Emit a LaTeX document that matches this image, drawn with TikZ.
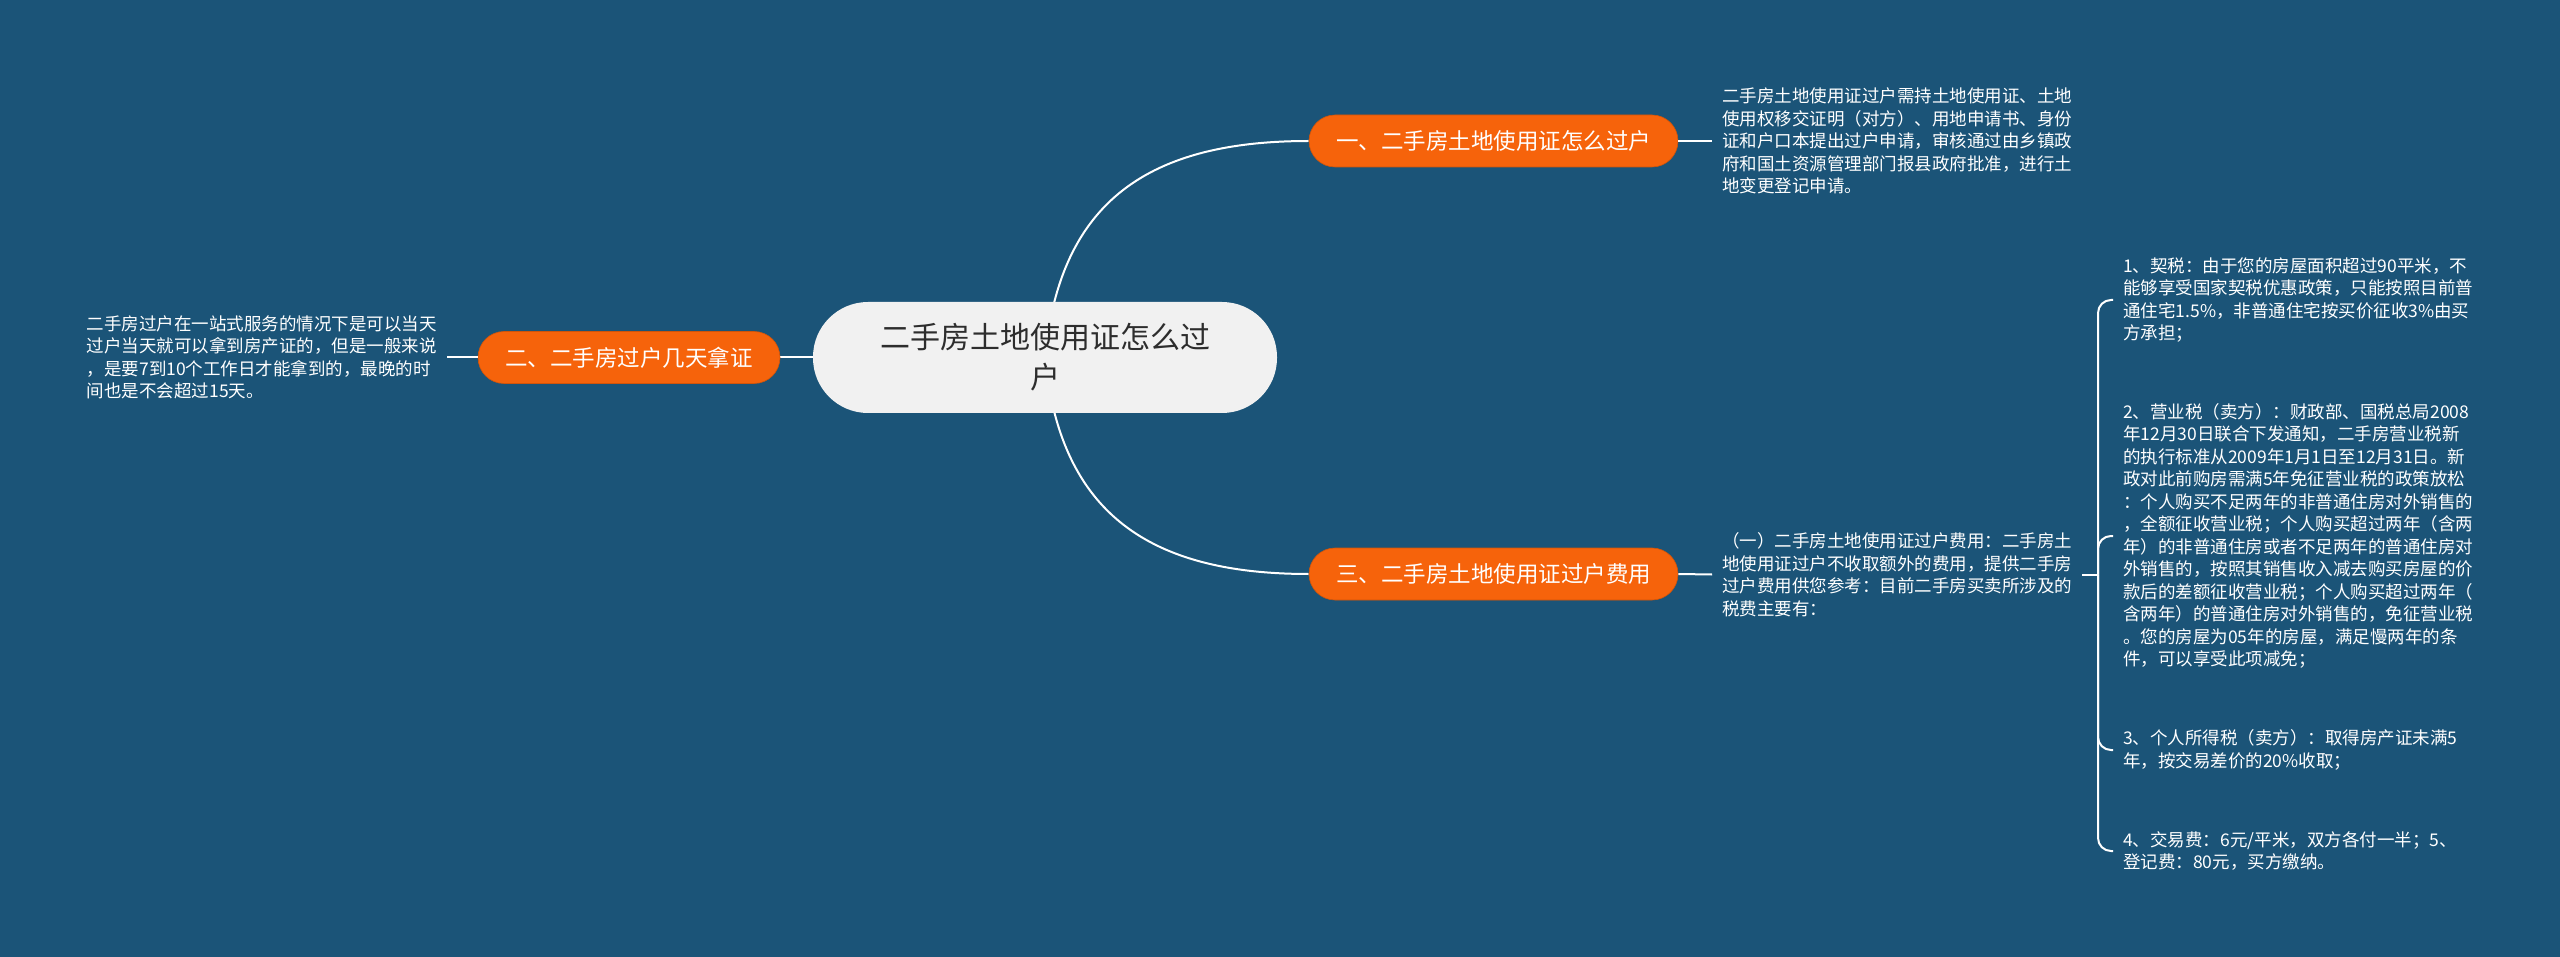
\documentclass[tikz,border=0pt]{standalone}
\usepackage{fontspec}
\setmainfont{Noto Sans CJK SC}
\definecolor{bgblue}{RGB}{27,84,120}
\definecolor{orangeb}{RGB}{246,99,11}
\definecolor{centerfill}{RGB}{241,241,241}
\definecolor{centertext}{RGB}{45,45,45}
\pgfdeclarelayer{bglayer}
\pgfdeclarelayer{edgelayer}
\pgfsetlayers{bglayer,edgelayer,main}
\tikzset{
  centernode/.style={draw=none, fill=centerfill, rounded corners=55pt, minimum width=464pt, minimum height=111pt, align=center, text=centertext, font=\fontsize{30pt}{40pt}\selectfont, inner sep=0pt},
  branchnode/.style={draw=orangeb!85!black, line width=0.6pt, fill=orangeb, rounded corners=26pt, minimum width=369pt, minimum height=52pt, text=white, font=\fontsize{22.5pt}{27pt}\selectfont, inner sep=0pt},
  leaftext/.style={align=left, text=white, font=\fontsize{17.5pt}{22.5pt}\selectfont, inner xsep=10pt, inner ysep=4pt},
  link/.style={draw=white, line width=2pt},
}
\begin{document}
\begin{tikzpicture}[x=1pt, y=-1pt]
\begin{pgfonlayer}{bglayer}
\fill[bgblue] (0,0) rectangle (2560,957);
\end{pgfonlayer}
\useasboundingbox (0,0) rectangle (2560,957);

\coordinate (c0) at (1045,357);
\node[centernode] (c) at (1045,357.5) {二手房土地使用证怎么过\\户};
\node[branchnode] (b1) at (1493.5,141) {一、二手房土地使用证怎么过户};
\node[branchnode, minimum width=302pt] (b2) at (629,357.5) {二、二手房过户几天拿证};
\node[branchnode] (b3) at (1493.5,574) {三、二手房土地使用证过户费用};

\begin{pgfonlayer}{edgelayer}
\draw[link] (c0) .. controls (1060,200) and (1150,141) .. (b1.west);
\draw[link] (c0) .. controls (1060,514) and (1150,574) .. (b3.west);
\draw[link] (c.west) -- (b2.east);
\end{pgfonlayer}

\node[leaftext, anchor=west] (t1) at (1712,141) {二手房土地使用证过户需持土地使用证、土地\\使用权移交证明（对方）、用地申请书、身份\\证和户口本提出过户申请，审核通过由乡镇政\\府和国土资源管理部门报县政府批准，进行土\\地变更登记申请。};
\draw[link] (b1.east) -- (t1.west);

\node[leaftext, anchor=east] (t2) at (447,357.5) {二手房过户在一站式服务的情况下是可以当天\\过户当天就可以拿到房产证的，但是一般来说\\，是要7到10个工作日才能拿到的，最晚的时\\间也是不会超过15天。};
\draw[link] (b2.west) -- (t2.east);

\node[leaftext, anchor=west] (t3) at (1712,574.5) {（一）二手房土地使用证过户费用：二手房土\\地使用证过户不收取额外的费用，提供二手房\\过户费用供您参考：目前二手房买卖所涉及的\\税费主要有：};
\draw[link] (b3.east) -- (t3.west);

\coordinate (j) at (2098,574.5);
\draw[link] (t3.east) -- (j);

\node[leaftext, anchor=west] (i1) at (2113,300) {1、契税：由于您的房屋面积超过90平米，不\\能够享受国家契税优惠政策，只能按照目前普\\通住宅1.5\%，非普通住宅按买价征收3\%由买\\方承担；};
\node[leaftext, anchor=west] (i2) at (2113,536) {2、营业税（卖方）：财政部、国税总局2008\\年12月30日联合下发通知，二手房营业税新\\的执行标准从2009年1月1日至12月31日。新\\政对此前购房需满5年免征营业税的政策放松\\：个人购买不足两年的非普通住房对外销售的\\，全额征收营业税；个人购买超过两年（含两\\年）的非普通住房或者不足两年的普通住房对\\外销售的，按照其销售收入减去购买房屋的价\\款后的差额征收营业税；个人购买超过两年（\\含两年）的普通住房对外销售的，免征营业税\\。您的房屋为05年的房屋，满足慢两年的条\\件，可以享受此项减免；};
\node[leaftext, anchor=west] (i3) at (2113,750) {3、个人所得税（卖方）：取得房产证未满5\\年，按交易差价的20\%收取；};
\node[leaftext, anchor=west] (i4) at (2113,851) {4、交易费：6元/平米，双方各付一半；5、\\登记费：80元，买方缴纳。};

\foreach \n in {i1,i2,i3,i4} {
  \draw[link, rounded corners=13pt] (j) |- (\n.west);
}
\end{tikzpicture}
\end{document}
